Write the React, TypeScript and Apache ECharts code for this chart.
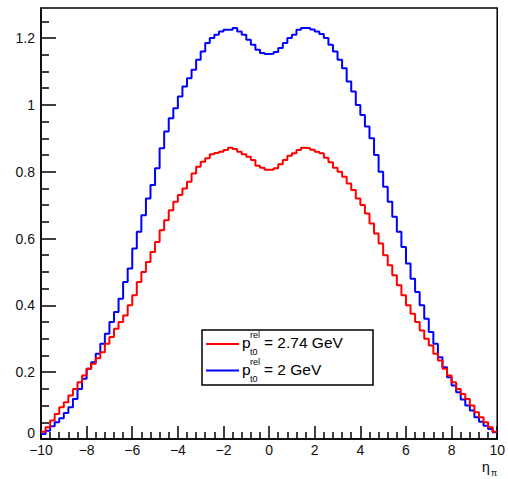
import React, { useEffect, useRef } from "react";
import * as echarts from "echarts";

// Histogram binning: 100 bins from -10 to 10
const xMin = -10;
const xMax = 10;
const binWidth = 0.2;

// p_t0^rel = 2 GeV (blue), bin contents from left to right
const blueValues = [
  0.015, 0.025, 0.038, 0.05, 0.062, 0.078, 0.095, 0.12, 0.15, 0.18,
  0.21, 0.23, 0.255, 0.285, 0.315, 0.35, 0.38, 0.42, 0.47, 0.51,
  0.57, 0.62, 0.67, 0.72, 0.76, 0.81, 0.87, 0.92, 0.96, 0.99,
  1.025, 1.055, 1.08, 1.105, 1.135, 1.16, 1.185, 1.2, 1.21, 1.22,
  1.225, 1.225, 1.23, 1.22, 1.21, 1.195, 1.18, 1.165, 1.155, 1.152,
  1.153, 1.158, 1.17, 1.185, 1.2, 1.21, 1.225, 1.23, 1.23, 1.226,
  1.22, 1.212, 1.2, 1.18, 1.16, 1.135, 1.11, 1.07, 1.04, 1.0,
  0.97, 0.935, 0.9, 0.85, 0.8, 0.755, 0.71, 0.665, 0.62, 0.575,
  0.525, 0.48, 0.44, 0.4, 0.36, 0.32, 0.285, 0.245, 0.215, 0.185,
  0.16, 0.14, 0.118, 0.1, 0.085, 0.065, 0.052, 0.04, 0.03, 0.02,
];

// p_t0^rel = 2.74 GeV (red)
const redValues = [
  0.022, 0.035, 0.055, 0.075, 0.095, 0.11, 0.13, 0.15, 0.17, 0.19,
  0.21, 0.225, 0.242, 0.26, 0.285, 0.305, 0.33, 0.35, 0.37, 0.4,
  0.43, 0.47, 0.5, 0.53, 0.56, 0.59, 0.625, 0.655, 0.685, 0.71,
  0.73, 0.75, 0.77, 0.795, 0.815, 0.83, 0.84, 0.852, 0.856, 0.86,
  0.865, 0.872, 0.868, 0.86, 0.852, 0.845, 0.835, 0.818, 0.812, 0.806,
  0.806, 0.81, 0.822, 0.835, 0.848, 0.855, 0.865, 0.872, 0.87, 0.866,
  0.86, 0.855, 0.842, 0.828, 0.812, 0.8, 0.785, 0.765, 0.745, 0.72,
  0.7, 0.675, 0.645, 0.615, 0.585, 0.55, 0.52, 0.49, 0.46, 0.43,
  0.4, 0.375, 0.35, 0.325, 0.3, 0.28, 0.255, 0.235, 0.21, 0.19,
  0.17, 0.15, 0.135, 0.12, 0.1, 0.08, 0.065, 0.05, 0.035, 0.022,
];

const yMax = 1.29;
const yMajorTicks = [0, 0.2, 0.4, 0.6, 0.8, 1, 1.2];
const yMinorTicks = [
  0.05, 0.1, 0.15, 0.25, 0.3, 0.35, 0.45, 0.5, 0.55, 0.65, 0.7, 0.75,
  0.85, 0.9, 0.95, 1.05, 1.1, 1.15, 1.25,
];

const legendLabels = ["= 2.74 GeV", "= 2 GeV"];

function histData(values: number[]) {
  const pts: [number, number][] = values.map((v, i) => [xMin + i * binWidth, v]);
  pts.push([xMax, values[values.length - 1]]);
  return pts;
}

const FONT = "'Liberation Sans', Arial, Helvetica, sans-serif";

export default function App() {
  const ref = useRef<HTMLDivElement>(null);
  useEffect(() => {
    if (!ref.current) return;
    const chart = echarts.init(ref.current, null, { renderer: "svg" });
    const legendRow = (y: number, color: string, label: string) => [
      {
        type: "line",
        z: 20,
        shape: { x1: 206, y1: y, x2: 239, y2: y },
        style: { stroke: color, lineWidth: 2 },
      },
      {
        type: "text",
        z: 20,
        x: 242,
        y: y - 1.5,
        style: { text: "p", font: `15.5px ${FONT}`, fill: "#000", verticalAlign: "middle", align: "left" },
      },
      {
        type: "text",
        z: 20,
        x: 250,
        y: y - 9,
        style: { text: "rel", font: `9px ${FONT}`, fill: "#000", verticalAlign: "middle", align: "left" },
      },
      {
        type: "text",
        z: 20,
        x: 250,
        y: y + 8,
        style: { text: "t0", font: `9px ${FONT}`, fill: "#000", verticalAlign: "middle", align: "left" },
      },
      {
        type: "text",
        z: 20,
        x: 264,
        y: y - 1.5,
        style: { text: label, font: `15.5px ${FONT}`, fill: "#000", verticalAlign: "middle", align: "left" },
      },
    ];
    chart.setOption({
      animation: false,
      backgroundColor: "#fff",
      grid: {
        left: 41,
        right: 10,
        top: 8,
        bottom: 40,
        show: true,
        borderColor: "#000",
        borderWidth: 1.5,
        backgroundColor: "transparent",
      },
      xAxis: {
        type: "value",
        min: xMin,
        max: xMax,
        interval: 2,
        axisLine: { show: true, onZero: false, lineStyle: { color: "#000", width: 1.5 } },
        axisTick: { show: true, inside: true, length: 13, lineStyle: { color: "#000", width: 1.5 } },
        minorTick: { show: true, splitNumber: 5, length: 7, lineStyle: { color: "#000", width: 1.5 } },
        splitLine: { show: false },
        axisLabel: {
          color: "#111",
          fontSize: 14,
          fontFamily: FONT,
          margin: 4,
          formatter: (v: number) => String(v).replace("-", "\u2212"),
        },
      },
      yAxis: [
        {
          type: "value",
          min: 0,
          max: yMax,
          axisLine: { show: true, onZero: false, lineStyle: { color: "#000", width: 1.5 } },
          axisTick: {
            show: true,
            inside: true,
            length: 15,
            customValues: yMajorTicks,
            lineStyle: { color: "#000", width: 1.5 },
          },
          splitLine: { show: false },
          axisLabel: {
            color: "#111",
            fontSize: 14,
            fontFamily: FONT,
            margin: 6,
            customValues: yMajorTicks,
            formatter: (v: number) => (v === 0 ? "{z|0}" : String(v)),
            rich: {
              z: { fontSize: 14, fontFamily: FONT, color: "#111", padding: [0, 0, 12, 0] },
            },
          },
        },
        {
          type: "value",
          min: 0,
          max: yMax,
          position: "left",
          axisLine: { show: false, onZero: false },
          axisLabel: { show: false },
          splitLine: { show: false },
          axisTick: {
            show: true,
            inside: true,
            length: 8,
            customValues: yMinorTicks,
            lineStyle: { color: "#000", width: 1.5 },
          },
        },
      ],
      series: [
        {
          name: "p_t0^rel = 2 GeV",
          type: "line",
          step: "end",
          data: histData(blueValues),
          showSymbol: false,
          lineStyle: { color: "#0000ff", width: 2 },
          itemStyle: { color: "#0000ff" },
          z: 2,
        },
        {
          name: "p_t0^rel = 2.74 GeV",
          type: "line",
          step: "end",
          data: histData(redValues),
          showSymbol: false,
          lineStyle: { color: "#ff0000", width: 2 },
          itemStyle: { color: "#ff0000" },
          z: 3,
        },
      ],
      graphic: [
        {
          type: "rect",
          shape: { x: 202, y: 330, width: 171, height: 55 },
          style: { fill: "#fff", stroke: "#000", lineWidth: 1.5 },
          z: 10,
        },
        ...legendRow(344, "#ff0000", legendLabels[0]),
        ...legendRow(370.5, "#0000ff", legendLabels[1]),
        {
          type: "text",
          x: 482,
          y: 467,
          z: 11,
          style: { text: "η", font: `14px ${FONT}`, fill: "#000", verticalAlign: "middle" },
        },
        {
          type: "text",
          x: 491,
          y: 473,
          z: 11,
          style: { text: "π", font: `9px ${FONT}`, fill: "#000", verticalAlign: "middle" },
        },
      ],
    });
    return () => chart.dispose();
  }, []);
  return (
    <div
      ref={ref}
      style={{ position: "absolute", left: 0, top: 0, width: 508, height: 479, background: "#fff" }}
    />
  );
}
